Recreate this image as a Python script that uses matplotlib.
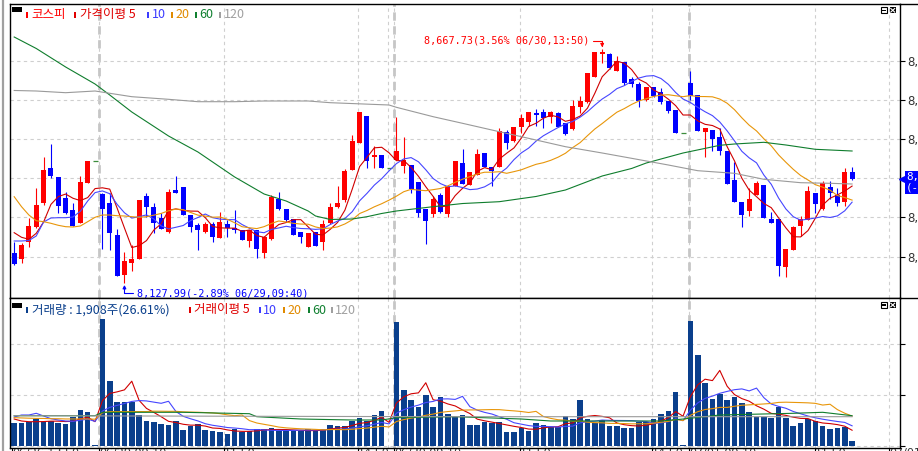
import matplotlib
matplotlib.use("Agg")
import matplotlib.pyplot as plt
from matplotlib.patches import Rectangle
from matplotlib.lines import Line2D
from matplotlib.transforms import blended_transform_factory
import numpy as np
import pandas as pd

W, H = 918, 451

# 코스피 10분봉 (06/26 13:50 ~ 07/01), 그림에서 읽은 값
opens = [8198.8, 8183.6, 8224.1, 8257.2, 8312.4, 8392.9, 8373.6, 8325.3, 8297.0, 8267.8,
         8359.8, 8409.7, 8333.8, 8312.4, 8239.5, 8147.5, 8175.8, 8183.6, 8329.2, 8303.2,
         8277.9, 8247.1, 8343.0, 8350.6, 8285.5, 8262.5, 8247.1, 8264.8, 8231.9, 8264.8,
         8254.9, 8251.0, 8226.4, 8251.0, 8198.8, 8229.6, 8321.6, 8298.6, 8275.6, 8247.1,
         8212.6, 8247.1, 8224.1, 8266.4, 8303.2, 8320.0, 8389.0, 8451.8, 8513.2, 8419.6,
         8423.5, 8392.9, 8412.0, 8398.9, 8400.5, 8362.1, 8298.6, 8287.8, 8331.5, 8287.8,
         8352.9, 8404.4, 8354.5, 8377.5, 8427.4, 8396.6, 8396.6, 8475.7, 8456.4, 8487.2,
         8500.1, 8519.4, 8523.1, 8510.2, 8520.8, 8496.4, 8482.6, 8533.2, 8546.1, 8603.6,
         8655.1, 8655.1, 8617.4, 8638.1, 8598.3, 8586.8, 8550.0, 8580.6, 8569.1, 8548.4,
         8527.0, 8473.4, 8589.8, 8561.5, 8477.1, 8481.0, 8465.6, 8432.7, 8366.0, 8316.1,
         8295.4, 8331.5, 8354.5, 8276.3, 8275.6, 8165.2, 8205.0, 8260.2, 8274.0, 8335.4,
         8298.6, 8350.6, 8331.5, 8316.1, 8385.1]
highs = [8224.1, 8221.1, 8277.9, 8346.9, 8419.6, 8448.8, 8373.6, 8339.1, 8312.4, 8375.2,
         8409.7, 8409.7, 8335.4, 8335.4, 8252.6, 8201.1, 8216.5, 8320.0, 8335.4, 8312.4,
         8290.8, 8344.6, 8375.2, 8350.6, 8285.5, 8266.4, 8270.1, 8270.1, 8293.1, 8274.0,
         8297.0, 8251.0, 8251.0, 8251.0, 8237.2, 8331.5, 8339.1, 8298.6, 8275.6, 8247.1,
         8244.8, 8247.1, 8274.0, 8312.4, 8352.2, 8390.6, 8469.5, 8523.1, 8513.2, 8444.2,
         8423.5, 8392.9, 8511.6, 8464.2, 8400.5, 8362.1, 8298.6, 8329.2, 8335.4, 8354.5,
         8410.4, 8437.3, 8383.7, 8436.6, 8427.4, 8396.6, 8486.3, 8481.0, 8487.2, 8517.8,
         8521.7, 8528.6, 8528.6, 8525.4, 8523.1, 8497.8, 8550.0, 8559.2, 8612.8, 8659.7,
         8667.73, 8657.4, 8651.2, 8638.1, 8602.2, 8592.1, 8580.6, 8580.6, 8576.9, 8548.4,
         8527.0, 8473.4, 8617.4, 8561.5, 8484.9, 8481.0, 8484.9, 8432.7, 8408.1, 8316.1,
         8346.9, 8364.4, 8354.5, 8293.1, 8275.6, 8206.6, 8260.2, 8283.2, 8352.9, 8335.4,
         8363.7, 8363.7, 8346.9, 8394.3, 8396.6]
lows = [8170.5, 8174.4, 8212.6, 8254.9, 8308.5, 8369.9, 8290.8, 8287.8, 8260.2, 8266.4,
        8359.8, 8409.7, 8206.6, 8205.0, 8145.2, 8127.99, 8157.4, 8183.6, 8281.6, 8243.4,
        8252.6, 8244.8, 8336.8, 8285.5, 8247.1, 8205.0, 8243.4, 8224.1, 8231.9, 8235.6,
        8243.4, 8228.0, 8212.6, 8185.9, 8185.9, 8228.0, 8297.0, 8270.1, 8239.5, 8221.8,
        8212.6, 8214.2, 8205.0, 8264.8, 8300.9, 8316.1, 8389.0, 8451.8, 8392.9, 8392.9,
        8392.9, 8392.9, 8412.0, 8381.4, 8336.8, 8281.6, 8218.8, 8281.6, 8290.8, 8281.6,
        8352.9, 8356.8, 8354.5, 8377.5, 8395.2, 8352.2, 8396.6, 8436.6, 8454.1, 8474.8,
        8490.2, 8490.2, 8484.9, 8496.4, 8487.2, 8469.5, 8481.0, 8519.4, 8542.4, 8603.6,
        8634.4, 8620.6, 8617.4, 8584.5, 8580.6, 8534.6, 8548.4, 8557.6, 8540.8, 8519.4,
        8473.4, 8473.4, 8550.0, 8479.4, 8418.2, 8433.4, 8423.5, 8356.1, 8316.1, 8257.2,
        8283.2, 8331.5, 8277.9, 8266.4, 8145.2, 8143.6, 8205.0, 8237.2, 8274.0, 8289.4,
        8297.0, 8321.6, 8306.2, 8306.2, 8366.0]
closes = [8172.8, 8216.5, 8260.2, 8308.5, 8389.0, 8375.2, 8306.2, 8289.4, 8260.2, 8362.1,
          8409.7, 8409.7, 8298.6, 8244.8, 8145.2, 8180.4, 8184.3, 8320.0, 8303.2, 8266.4,
          8252.6, 8339.1, 8336.8, 8285.5, 8258.6, 8251.0, 8264.8, 8235.6, 8270.1, 8254.9,
          8251.0, 8228.0, 8251.0, 8206.6, 8234.2, 8327.6, 8298.6, 8274.0, 8239.5, 8234.2,
          8244.8, 8214.2, 8264.8, 8304.6, 8313.8, 8386.7, 8456.4, 8523.1, 8410.4, 8423.5,
          8392.9, 8392.9, 8432.7, 8412.0, 8344.6, 8290.8, 8272.4, 8321.6, 8293.1, 8352.9,
          8410.4, 8356.8, 8383.7, 8425.8, 8395.2, 8387.4, 8478.7, 8450.4, 8487.2, 8507.9,
          8521.7, 8515.5, 8507.9, 8521.7, 8488.6, 8471.1, 8536.2, 8547.7, 8612.8, 8659.7,
          8661.1, 8622.9, 8639.7, 8589.8, 8586.8, 8548.4, 8580.6, 8559.2, 8546.1, 8525.4,
          8473.4, 8473.4, 8559.2, 8479.4, 8484.9, 8459.6, 8433.4, 8356.1, 8316.1, 8285.5,
          8322.3, 8358.4, 8277.9, 8267.8, 8168.2, 8206.6, 8257.2, 8275.6, 8340.7, 8310.1,
          8358.4, 8335.4, 8313.8, 8385.1, 8367.6]
volumes = [9130, 9130, 9530, 10580, 9530, 9920, 9130, 8740, 11250, 14110,
           13330, 270, 49780, 25480, 17250, 17250, 17250, 12150, 9800, 9410,
           8740, 8230, 9800, 6390, 7720, 8740, 6390, 6000, 5610, 4820,
           6660, 5610, 6000, 6660, 6660, 7170, 5880, 5880, 5880, 5880,
           6660, 5880, 6660, 8230, 7720, 7720, 9920, 10860, 9680, 12030,
           13600, 150, 48610, 21950, 18030, 15410, 19990, 15290, 19210, 12540,
           11490, 12150, 8230, 8230, 9290, 8900, 9410, 5490, 5490, 6940,
           5880, 9020, 8230, 7330, 7330, 11760, 10580, 18030, 10470, 8900,
           10070, 7840, 7840, 7060, 7060, 9410, 9410, 10580, 12540, 13720,
           21170, 390, 49000, 35670, 24700, 18420, 20380, 18030, 19210, 16860,
           13330, 11370, 11370, 10980, 15290, 10980, 7840, 9020, 10580, 9800,
           7840, 6660, 7060, 7450, 1908]

# 이동평균: 창이 차기 전 앞부분은 그림에서 읽은 값
ma5_head = [8244.8, 8234.2, 8229.6, 8243.4]
ma10_head = [8225.7, 8225.7, 8226.9, 8237.2, 8269.4, 8278.6, 8279.3, 8279.3, 8280.9]
ma20_head = [8327.6, 8304.6, 8285.5, 8272.4, 8270.1, 8266.4, 8261.8, 8258.6, 8257.9, 8260.2,
             8270.1, 8280.2, 8285.5, 8285.5, 8283.9, 8283.2, 8281.6, 8280.2, 8281.6]
ma60_idx = [0, 3, 7, 11, 13, 16, 21, 25, 30, 34, 37, 40, 41, 43, 46, 48, 50, 52, 57, 61,
            66, 71, 75, 80, 84, 86, 91, 96, 98, 102, 105, 109, 114]
ma60_val = [8694.9, 8668.5, 8625.9, 8586.8, 8561.5, 8522.4, 8467.2, 8430.4, 8372.9, 8333.8,
            8317.7, 8294.7, 8283.2, 8275.2, 8276.3, 8281.6, 8289.0, 8294.7, 8304.6, 8311.9,
            8316.1, 8328.1, 8343.0, 8375.2, 8392.5, 8405.1, 8428.1, 8445.8, 8448.8, 8452.7,
            8446.5, 8436.6, 8432.7]
ma120_idx = [0, 3, 7, 11, 16, 21, 25, 30, 34, 40, 43, 51, 52, 57, 61, 66, 71, 75, 80, 84,
             89, 93, 98, 102, 107, 111, 114]
ma120_val = [8571.9, 8570.7, 8566.8, 8570.7, 8557.6, 8551.6, 8546.1, 8546.1, 8547.7, 8547.7,
             8543.8, 8538.5, 8533.2, 8511.6, 8496.4, 8477.1, 8458.0, 8442.6, 8428.1, 8415.9,
             8400.5, 8387.4, 8381.4, 8367.6, 8359.8, 8358.4, 8356.8]

vma5_head = [10580, 9800, 9530, 9530]
vma10_head = [11370, 12150, 12150, 12820, 11760, 10700, 10190, 9800, 9670]
vma20_head = [11100, 11000, 10900, 10800, 10800, 10700, 10700, 10600, 10600, 10600,
              10600, 10500, 13000, 13500, 13500, 13500, 13500, 13500, 13500]
vma60_idx = [0, 11, 12, 23, 32, 33, 39, 46, 50, 52, 60, 69, 73, 88, 91, 96, 106, 110, 114]
vma60_val = [11880, 11880, 13210, 13210, 12660, 11490, 10580, 10190, 10190, 11090,
             11490, 10580, 9800, 9800, 10580, 12150, 12820, 13210, 11880]
vma120_idx = [0, 40, 60, 114]
vma120_val = [11880, 11600, 11490, 11490]

price_ticks = [8190, 8280, 8370, 8460, 8550, 8640]
vol_ticks = [0, 20000, 40000]
time_ticks = [-0.3, 11.55, 28.55, 46.8, 51.65, 68.8, 86.8, 91.8, 108.95, 119.0]
time_labels = ["06/26,13:50", "06/29,09:10", "11:50", "14:50", "06/30,09:10",
               "11:50", "14:50", "07/01,09:10", "11:50", "07/01,13:30"]
day_breaks = [11.55, 51.65, 91.8]

hi_idx, hi_val, hi_note = 80, 8667.73, "(3.56% 06/30,13:50)"
lo_idx, lo_val, lo_note = 15, 8127.99, "(-2.89% 06/29,09:40)"
last_note = "8,367.62\n(-1.25%)"
vol_title = "거래량 : 1,908주(26.61%)"

UP, DN, DOJI = "#ff0000", "#0000ff", "#3c8c3c"
MA_COL = {5: "#d00000", 10: "#4646ff", 20: "#e8960a", 60: "#0f7d2d", 120: "#9a9a9a"}
VOL = "#0a3f8c"
GRID = "#cfcfcf"
KR = ["Noto Sans CJK KR", "DejaVu Sans"]

x = np.arange(len(closes))
o, h, l, c = (np.array(a) for a in (opens, highs, lows, closes))
v = np.array(volumes, dtype=float)


def moving(series, n, head):
    m = pd.Series(series).rolling(n).mean().to_numpy()
    m[:len(head)] = head
    return m


fig = plt.figure(figsize=(W / 100, H / 100), dpi=100)


def frac(x0, y0, x1, y1):
    return [x0 / W, 1 - y1 / H, (x1 - x0) / W, (y1 - y0) / H]


ax = fig.add_axes(frac(10, 4, 900, 298))
axv = fig.add_axes(frac(10, 298, 900, 448))
XL = (-0.57, 120.52)
for a in (ax, axv):
    a.set_xlim(*XL)
    for s in a.spines.values():
        s.set_color("black")
        s.set_linewidth(1.0)
    for p in time_ticks[1:]:
        a.axvline(p, color=GRID, lw=0.8, ls=(0, (3, 3)), zorder=0)
    a.axvline(50.8, color=GRID, lw=0.8, ls=(0, (3, 3)), zorder=0)
    for p in day_breaks:
        a.axvline(p, color="#c6c6c6", lw=2.0, ls=(0, (3, 2)), zorder=0)

ax.set_ylim(8094.6, 8770.8)
axv.set_ylim(-784, 58016)
for val in price_ticks:
    ax.axhline(val, color=GRID, lw=0.8, ls=(0, (3, 3)), zorder=0)
for val in vol_ticks:
    axv.axhline(val, color=GRID, lw=0.8, ls=(0, (3, 3)), zorder=0)

# candles
up, dn, flat = c > o, c < o, c == o
ax.vlines(x[up], l[up], h[up], color=UP, lw=0.8, zorder=3)
ax.vlines(x[dn], l[dn], h[dn], color=DN, lw=0.8, zorder=3)
ax.bar(x[up], c[up] - o[up], bottom=o[up], width=0.68, color=UP, lw=0, zorder=3)
ax.bar(x[dn], o[dn] - c[dn], bottom=c[dn], width=0.68, color=DN, lw=0, zorder=3)
ax.hlines(c[flat], x[flat] - 0.34, x[flat] + 0.34, color=DOJI, lw=0.9, zorder=3)

# price moving averages
ax.plot(x, moving(c, 5, ma5_head), color=MA_COL[5], lw=0.8, zorder=4)
ax.plot(x, moving(c, 10, ma10_head), color=MA_COL[10], lw=0.8, zorder=4)
ax.plot(x, moving(c, 20, ma20_head), color=MA_COL[20], lw=0.8, zorder=4)
ax.plot(ma60_idx, ma60_val, color=MA_COL[60], lw=0.8, zorder=4)
ax.plot(ma120_idx, ma120_val, color=MA_COL[120], lw=0.8, zorder=4)

# volume
axv.bar(x, v, width=0.76, color=VOL, lw=0, zorder=2)
axv.plot(x, moving(v, 5, vma5_head), color=MA_COL[5], lw=0.8, zorder=4)
axv.plot(x, moving(v, 10, vma10_head), color=MA_COL[10], lw=0.8, zorder=4)
axv.plot(x, moving(v, 20, vma20_head), color=MA_COL[20], lw=0.8, zorder=4)
axv.plot(vma60_idx, vma60_val, color=MA_COL[60], lw=0.8, zorder=4)
axv.plot(vma120_idx, vma120_val, color=MA_COL[120], lw=0.8, zorder=4)

# axes ticks
ax.yaxis.tick_right()
ax.set_yticks(price_ticks)
ax.set_yticklabels([f"{t:,}" for t in price_ticks])
ax.tick_params(axis="y", length=3.6, width=0.8, pad=1.5, labelsize=8.5, labelcolor="#333333")
ax.set_xticks([])
axv.yaxis.tick_right()
axv.set_yticks(vol_ticks)
axv.set_yticklabels([])
axv.tick_params(axis="y", length=3.6, width=0.8)
axv.set_xticks(time_ticks)
axv.set_xticklabels(time_labels)
axv.tick_params(axis="x", length=2.5, width=0.8, pad=-2.5, labelsize=8, labelcolor="#333333")
for t in axv.get_xticklabels():
    t.set_ha("left")

# high / low notes
mono = "DejaVu Sans Mono"
ax.annotate(f"{hi_val:,.2f}{hi_note}", xy=(hi_idx, hi_val), xytext=(-13, 8),
            textcoords="offset pixels", ha="right", va="center", color=UP,
            fontsize=7.3, family=mono, zorder=6,
            arrowprops=dict(arrowstyle="-|>", color=UP, lw=0.8, shrinkA=1, shrinkB=1,
                            relpos=(1, 0.5), mutation_scale=5,
                            connectionstyle="angle,angleA=0,angleB=90,rad=0"))
ax.annotate(f"{lo_val:,.2f}{lo_note}", xy=(lo_idx, lo_val), xytext=(13, -10),
            textcoords="offset pixels", ha="left", va="center", color=DN,
            fontsize=7.3, family=mono, zorder=6,
            arrowprops=dict(arrowstyle="-|>", color=DN, lw=0.8, shrinkA=1, shrinkB=1,
                            relpos=(0, 0.5), mutation_scale=5,
                            connectionstyle="angle,angleA=0,angleB=90,rad=0"))

# current price tag on the right
tr = blended_transform_factory(ax.transAxes, ax.transData)
ax.plot([1.0025], [c[-1]], marker="<", ms=5, color=DN, transform=tr, clip_on=False, zorder=7)
ax.annotate(last_note, xy=(1, c[-1]), xycoords=("axes fraction", "data"), xytext=(6, 7),
            textcoords="offset pixels", ha="left", va="top", color="white", fontsize=7.8,
            family=mono, linespacing=1.05, annotation_clip=False,
            bbox=dict(boxstyle="square,pad=0.12", fc=DN, ec="none"))


# frame pieces
def fline(x0, y0, x1, y1, color="black", lw=1.0):
    fig.add_artist(Line2D([x0 / W, x1 / W], [1 - y0 / H, 1 - y1 / H], color=color, lw=lw,
                          transform=fig.transFigure))


def frect(x0, y0, x1, y1, fc, ec="none", lw=0.8):
    fig.add_artist(Rectangle((x0 / W, 1 - y1 / H), (x1 - x0) / W, (y1 - y0) / H, fc=fc, ec=ec,
                             lw=lw, transform=fig.transFigure))


fline(900, 4, 918, 4)
fline(900, 298, 918, 298)
fline(2.5, 0, 2.5, 451, color="#a0a0a0", lw=1.6)

for top in (7.3, 302):
    frect(881, top, 887, top + 6, "white", "black", 0.8)
    frect(882.3, top + 2.3, 885.7, top + 3.9, "black")
    frect(889.5, top, 896, top + 6, "black")
    fline(890.8, top + 1.2, 894.7, top + 4.8, color="white", lw=0.8)
    fline(890.8, top + 4.8, 894.7, top + 1.2, color="white", lw=0.8)


# legends
def legend_row(yc, items, box_y):
    frect(12, box_y, 22, box_y + 4.5, "black")
    for bx, tx, label, col in items:
        frect(bx, yc - 3, bx + 2, yc + 3, col)
        fig.text(tx / W, 1 - yc / H, label, color=col, fontsize=9, family=KR,
                 ha="left", va="center")


legend_row(14.5, [(26, 31.5, "코스피", UP),
                  (74, 79.5, "가격이평 5", "#e00000"),
                  (147, 151.5, "10", "#3c3cff"),
                  (171, 175.5, "20", "#e08a00"),
                  (195, 199.5, "60", "#108030"),
                  (219, 223.5, "120", "#a0a0a0")], 7.3)
legend_row(310, [(26, 31.5, vol_title, VOL),
                 (189, 194, "거래이평 5", "#e00000"),
                 (259, 263, "10", "#3c3cff"),
                 (283, 287, "20", "#e08a00"),
                 (308, 312, "60", "#108030"),
                 (331, 335, "120", "#a0a0a0")], 303.3)

fig.savefig("out.png", dpi=100, facecolor="white")
